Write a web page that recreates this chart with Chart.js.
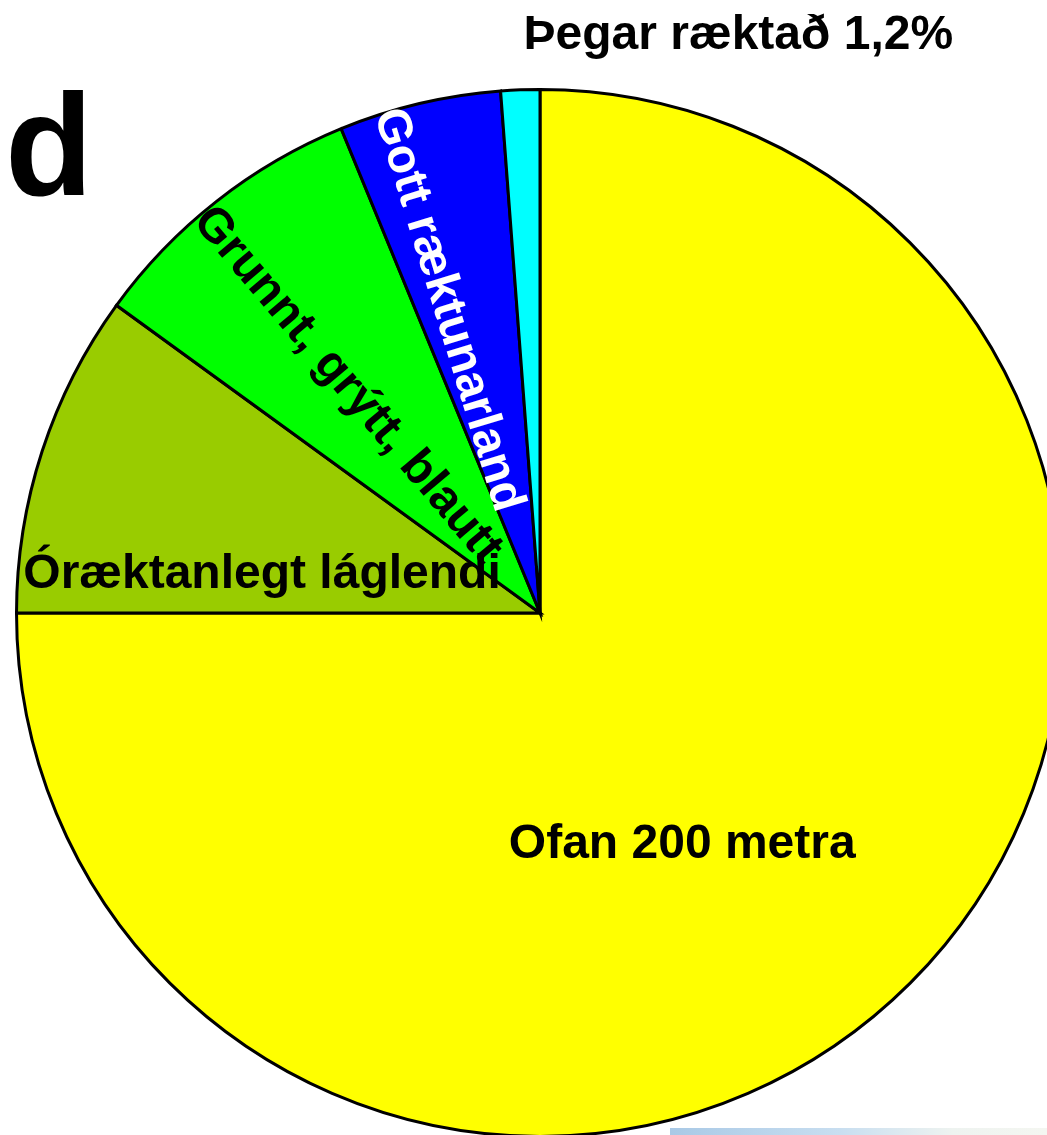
<!DOCTYPE html>
<html>
<head>
<meta charset="utf-8">
<script src="https://cdn.jsdelivr.net/npm/chart.js@4.4.0/dist/chart.umd.min.js"></script>
<style>
  html, body { margin: 0; padding: 0; background: #fff; overflow: hidden; width: 1047px; height: 1135px; }
  #wrap { position: absolute; left: 0; top: 0; width: 1080px; height: 1226px; }
  #letter { position: absolute; left: 5px; top: 74px; font: bold 144px "Liberation Sans", Arial, sans-serif; color: #000; line-height: 1; }
  #photo { position: absolute; left: 670px; top: 1128px; width: 377px; height: 7px;
    background: linear-gradient(90deg, #a9c9e6 0%, #c8def0 45%, #eef3f0 75%, #f4f6f1 100%); }
</style>
</head>
<body>
<div id="wrap"><canvas id="pie" width="1080" height="1226"></canvas></div>
<div id="letter">d</div>
<div id="photo"></div>
<script>
// data, clockwise from 12 o'clock
const categories = ['Ofan 200 metra', 'Óræktanlegt láglendi', 'Grunnt, grýtt, blautt', 'Gott ræktunarland', 'Þegar ræktað'];
const shares = [75, 10, 8.8, 5, 1.2];
const sliceColors = ['#ffff00', '#99cc00', '#00ff00', '#0000ff', '#00ffff'];
const outsideLabel = 'Þegar ræktað 1,2%';

const FONT = 'bold 48px "Liberation Sans", Arial, sans-serif';

// where each label sits inside its slice: fraction along the slice, fraction of radius
const placement = [
  { f: 0.55, r: 0.52, rotate: false, color: '#000' },
  { f: 0.217, r: 0.536, rotate: false, color: '#000' },
  { f: 0.435, r: 0.57, rotate: true, color: '#000' },
  { f: 0.30, r: 0.605, rotate: true, color: '#fff' },
  null
];

const sliceLabels = {
  id: 'sliceLabels',
  afterDatasetsDraw(chart) {
    const ctx = chart.ctx;
    const arcs = chart.getDatasetMeta(0).data;
    ctx.save();
    ctx.font = FONT;
    arcs.forEach((arc, i) => {
      const p = arc.getProps(['x', 'y', 'startAngle', 'endAngle', 'outerRadius'], true);
      const pl = placement[i];
      if (!pl) {
        // label outside, above the thin slice
        const a = p.startAngle;
        const ox = p.x + Math.cos(a) * p.outerRadius;
        const oy = p.y + Math.sin(a) * p.outerRadius;
        ctx.fillStyle = '#000';
        ctx.textAlign = 'left';
        ctx.textBaseline = 'alphabetic';
        ctx.fillText(outsideLabel, ox + 23, oy - 42);
        return;
      }
      const a = p.startAngle + pl.f * (p.endAngle - p.startAngle);
      const tx = p.x + Math.cos(a) * p.outerRadius * pl.r;
      const ty = p.y + Math.sin(a) * p.outerRadius * pl.r;
      ctx.save();
      ctx.translate(tx, ty);
      if (pl.rotate) ctx.rotate(a - Math.PI);
      ctx.fillStyle = pl.color;
      ctx.textAlign = 'center';
      ctx.textBaseline = 'middle';
      ctx.fillText(categories[i], 0, 0);
      ctx.restore();
    });
    ctx.restore();
  }
};

new Chart(document.getElementById('pie'), {
  type: 'pie',
  data: {
    labels: categories,
    datasets: [{
      data: shares,
      backgroundColor: sliceColors,
      borderColor: '#000',
      borderWidth: 3,
      borderJoinStyle: 'miter'
    }]
  },
  options: {
    responsive: false,
    animation: false,
    devicePixelRatio: 1,
    layout: { padding: { left: 15, right: 15, top: 88, bottom: 88 } },
    plugins: {
      legend: { display: false },
      tooltip: { enabled: false }
    }
  },
  plugins: [sliceLabels]
});
</script>
</body>
</html>
